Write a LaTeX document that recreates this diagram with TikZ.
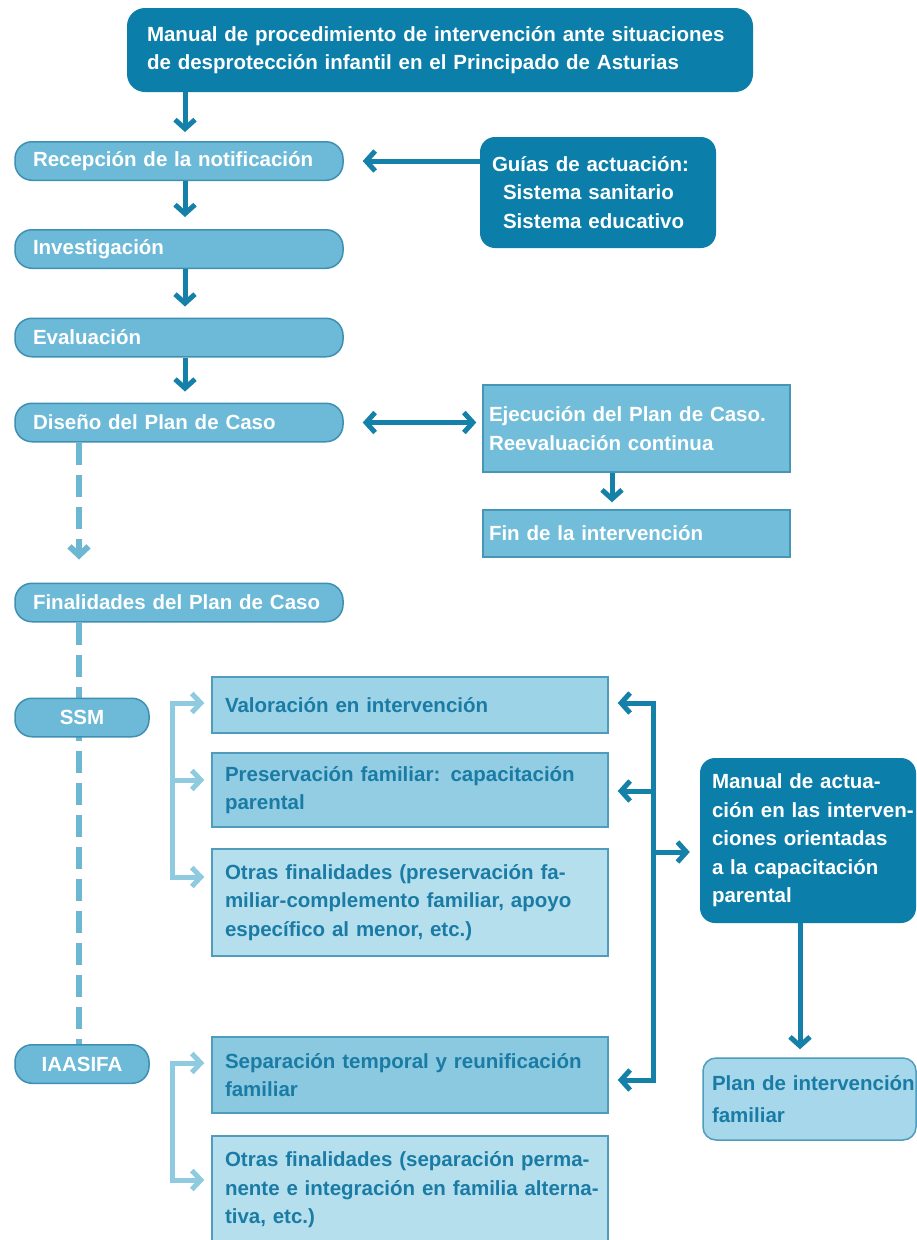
\documentclass[tikz,border=0pt]{standalone}
\usepackage{fontspec}
\setmainfont{Liberation Sans}
\usetikzlibrary{arrows.meta,backgrounds}
\definecolor{cdark}{HTML}{0B7EA9}
\definecolor{carr}{HTML}{1581A9}
\definecolor{cpill}{HTML}{6CBAD7}
\definecolor{cpillb}{HTML}{3E90B2}
\definecolor{cmid}{HTML}{72BEDA}
\definecolor{cmidb}{HTML}{4596B7}
\definecolor{cval}{HTML}{9DD3E6}
\definecolor{cpre}{HTML}{93CDE3}
\definecolor{cotr}{HTML}{B6DFEE}
\definecolor{csep}{HTML}{8BC9E0}
\definecolor{cplan}{HTML}{A6D7EA}
\definecolor{clb}{HTML}{4F9CBC}
\definecolor{ctext}{HTML}{1A7CA5}
\definecolor{clight}{HTML}{8ECBE0}
\definecolor{cdash}{HTML}{6EB7D3}
\tikzset{
  dtip/.tip={Straight Barb[length=9pt,width=20pt]},
  ltip/.tip={Straight Barb[length=9pt,width=19pt]},
}
\begin{document}
\begin{tikzpicture}[x=1pt,y=-1pt,
  every node/.style={font=\bfseries\fontsize{20.5}{28.5}\selectfont, inner ysep=0pt},
  darkbox/.style={fill=cdark, text=white, rounded corners=18, align=left},
  pillbox/.style={fill=cpill, draw=cpillb, line width=1.5, rounded corners=17, text=white, align=left,
    minimum width=328, minimum height=38.5, inner xsep=18, text width=292},
  smallpill/.style={fill=cpill, draw=cpillb, line width=1.5, rounded corners=17, text=white,
    minimum width=134, minimum height=38.5, inner xsep=0},
  midbox/.style={fill=cmid, draw=cmidb, line width=1.5, text=white, align=left,
    minimum width=307, inner xsep=6, text width=295},
  lightbox/.style={draw=clb, line width=1.5, text=ctext, align=left,
    minimum width=396, inner xsep=13, text width=370},
  darr/.style={draw=carr, line width=5, -dtip},
  larr/.style={draw=clight, line width=5, -ltip},
  dashln/.style={draw=cdash, line width=6, dash pattern=on 22pt off 10pt},
]
\useasboundingbox (0,0) rectangle (917,1240);
\clip (0,0) rectangle (917,1240);

% column helpers
\coordinate (ax) at (185,0);
\coordinate (dx) at (79,0);
\coordinate (ex) at (612,0);
\coordinate (mx) at (800,0);
\coordinate (b1) at (172,703);
\coordinate (b2) at (172,780);
\coordinate (b3) at (172,877);
\coordinate (c1) at (172,1063);
\coordinate (c2) at (172,1180);
\coordinate (d1) at (653,703);
\coordinate (d2) at (653,791);
\coordinate (dm) at (653,852);
\coordinate (d4) at (653,1080);

% main column
\node[darkbox, minimum width=626, minimum height=84, inner xsep=20, text width=586] (top) at (440,50)
  {\mbox{Manual de procedimiento de intervención ante situaciones}\\\mbox{de desprotección infantil en el Principado de Asturias}};
\node[pillbox] (rec) at (179,161) {\mbox{Recepción de la notificación}};
\node[pillbox] (inv) at (179,249) {Investigación};
\node[pillbox] (eva) at (179,337.5) {Evaluación};
\node[pillbox] (dis) at (179,422.5) {Diseño del Plan de Caso};
\node[pillbox] (fin) at (179,602.5) {\mbox{Finalidades del Plan de Caso}};

\node[darkbox, rounded corners=15, minimum width=236, minimum height=111, inner xsep=12, text width=212] (guias) at (598,192.5)
  {\mbox{Guías de actuación:}\\\hspace*{11pt}\mbox{Sistema sanitario}\\\hspace*{11pt}\mbox{Sistema educativo}};

\node[midbox, minimum height=87] (eje) at (636.5,428.5)
  {\mbox{Ejecución del Plan de Caso.}\\\mbox{Reevaluación continua}};
\node[midbox, minimum height=47] (finint) at (636.5,533.5) {\mbox{Fin de la intervención}};

% SSM / IAASIFA
\node[smallpill] (ssm) at (82,717.5) {SSM};
\node[smallpill] (iaa) at (82,1064) {IAASIFA};

\node[lightbox, fill=cval, minimum height=56] (val) at (410,705) {\mbox{Valoración en intervención}};
\node[lightbox, fill=cpre, minimum height=74] (pre) at (410,790)
  {\mbox{Preservación familiar: capacitación}\\\mbox{parental}};
\node[lightbox, fill=cotr, minimum height=107] (otr) at (410,902.5)
  {\mbox{Otras finalidades (preservación fa-}\\\mbox{miliar-complemento familiar, apoyo}\\\mbox{específico al menor, etc.)}};
\node[lightbox, fill=csep, minimum height=76] (sep) at (410,1075)
  {\mbox{Separación temporal y reunificación}\\\mbox{familiar}};
\node[lightbox, fill=cotr, minimum height=108] (otrb) at (410,1190)
  {\mbox{Otras finalidades (separación perma-}\\\mbox{nente e integración en familia alterna-}\\\mbox{tiva, etc.)}};

% right column
\node[darkbox, rounded corners=15, minimum width=216, minimum height=165, inner xsep=12, text width=192] (manual) at (808,840.5)
  {\mbox{Manual de actua-}\\\mbox{ción en las interven-}\\\mbox{ciones orientadas}\\\mbox{a la capacitación}\\\mbox{parental}};
\node[fill=cplan, draw=clb, line width=1.5, rounded corners=13, text=ctext, align=left,
  minimum width=213, minimum height=82, inner xsep=9, text width=195,
  font=\bfseries\fontsize{20.5}{32}\selectfont] (plan) at (809.5,1099)
  {\mbox{Plan de intervención}\\\mbox{familiar}};

% connectors of the main column
\draw[darr, shorten >=9] (top.south -| ax) -- (rec.north -| ax);
\draw[darr, shorten >=12] (rec.south -| ax) -- (inv.north -| ax);
\draw[darr, shorten >=11] (inv.south -| ax) -- (eva.north -| ax);
\draw[darr, shorten >=11] (eva.south -| ax) -- (dis.north -| ax);
\draw[darr, shorten >=19] (guias.west |- rec.east) -- (rec.east);
\draw[draw=carr, line width=5, arrows={dtip-dtip}, shorten <=19, shorten >=6] (dis.east) -- (eje.west |- dis.east);
\draw[darr, shorten >=7] (eje.south -| ex) -- (finint.north -| ex);

% white ground and dashed line behind the boxes
\begin{scope}[on background layer]
\fill[white] (0,0) rectangle (917,1240);
\draw[dashln, -ltip, shorten >=23] (dis.south -| dx) -- (fin.north -| dx);
\draw[dashln] (fin.south -| dx) -- (iaa.north -| dx);
\end{scope}

% light brackets
\draw[larr, shorten >=7] (b3) -- (b1) -- (val.west |- b1);
\draw[larr, shorten >=7] (b1) -- (b3) -- (otr.west |- b3);
\draw[larr, shorten >=7] (b2) -- (pre.west |- b2);
\draw[larr, shorten >=7] (c2) -- (c1) -- (sep.west |- c1);
\draw[larr, shorten >=7] (c1) -- (c2) -- (otrb.west |- c2);

% dark bracket
\draw[darr, shorten >=9] (d4) -- (d1) -- (val.east |- d1);
\draw[darr, shorten >=9] (d1) -- (d4) -- (sep.east |- d4);
\draw[darr, shorten >=9] (d2) -- (pre.east |- d2);
\draw[darr, shorten >=10] (dm) -- (manual.west |- dm);
\draw[darr, shorten >=8] (manual.south -| mx) -- (plan.north -| mx);
\end{tikzpicture}
\end{document}
